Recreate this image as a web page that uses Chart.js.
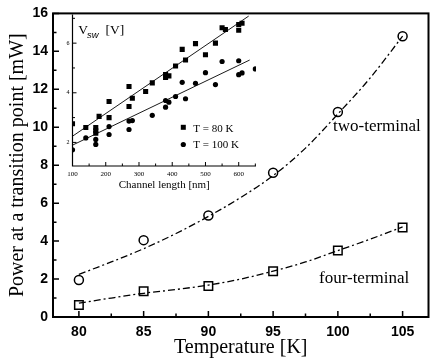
<!DOCTYPE html>
<html>
<head>
<meta charset="utf-8">
<script src="https://cdn.jsdelivr.net/npm/chart.js@4.4.1/dist/chart.umd.min.js"></script>
<style>
  body { margin: 0; background: #fff; }
  #wrap { position: relative; width: 436px; height: 358px; }
  #main { position: absolute; left: 0; top: 0; }
  #inset { position: absolute; left: 56px; top: 8px; }
</style>
</head>
<body>
<div id="wrap">
  <canvas id="main" width="436" height="358"></canvas>
  <canvas id="inset" width="204" height="186"></canvas>
</div>
<script>
// main plot: power vs temperature
const temps = [80, 85, 90, 95, 100, 105];
const twoTerminal = [1.95, 4.05, 5.35, 7.6, 10.8, 14.8];
const fourTerminal = [0.63, 1.36, 1.63, 2.41, 3.5, 4.72];
// dash-dot fit curves
const fitTemps = [80, 82.5, 85, 87.5, 90, 92.5, 95, 97.5, 100, 102.5, 105];
const twoFit = [2.25, 2.9, 3.6, 4.4, 5.3, 6.3, 7.45, 8.9, 10.7, 12.6, 14.8];
const fourFit = [0.73, 1.0, 1.25, 1.45, 1.68, 2.0, 2.42, 2.9, 3.5, 4.1, 4.75];
const xTicks = [80, 85, 90, 95, 100, 105];
const xMinor = [82.5, 87.5, 92.5, 97.5, 102.5];
const yTicks = [0, 2, 4, 6, 8, 10, 12, 14, 16];
const yMinor = [1, 3, 5, 7, 9, 11, 13, 15];

// inset: switching voltage vs channel length
const len80 = [100, 140, 170, 170, 170, 180, 210, 210, 270, 270, 280, 320, 340, 380, 380, 390, 410, 430, 440, 470, 500, 530, 550, 560, 600, 610, 600];
const vsw80 = [2.75, 2.6, 2.6, 2.47, 2.37, 3.05, 3.65, 3.0, 4.25, 3.45, 3.78, 4.05, 4.4, 4.73, 4.62, 4.68, 5.08, 5.75, 5.32, 5.98, 5.53, 6.0, 6.62, 6.55, 6.75, 6.8, 6.52];
const len100 = [100, 140, 170, 170, 210, 210, 270, 270, 280, 340, 380, 380, 390, 410, 430, 440, 470, 500, 530, 550, 600, 600, 610, 650];
const vsw100 = [1.7, 2.18, 2.12, 1.92, 2.64, 2.32, 2.52, 2.86, 2.88, 3.09, 3.69, 3.42, 3.62, 3.85, 4.42, 3.76, 4.38, 4.81, 4.33, 5.26, 5.29, 4.73, 4.8, 4.96];
const fitLen80 = [100, 630];
const fitV80 = [2.25, 7.09];
const fitLen100 = [100, 633];
const fitV100 = [1.89, 5.32];
const insetXTicks = [100, 200, 300, 400, 500, 600];
const insetXMinor = [150, 250, 350, 450, 550, 650];
const insetYTicks = [2, 4, 6];
const insetYMinor = [3, 5, 7];

const serif = '"Liberation Serif", "DejaVu Serif", serif';
const sans = '"Liberation Sans", Arial, sans-serif';

function pts(xs, ys) {
  return xs.map((v, i) => ({ x: v, y: ys[i] }));
}

function drawTicks(chart, xMaj, xMin, yMaj, yMin, lenMaj, lenMin, lw) {
  const { ctx, chartArea: a } = chart;
  const x = chart.scales.x, y = chart.scales.y;
  ctx.save();
  ctx.strokeStyle = '#000';
  ctx.lineWidth = lw;
  ctx.beginPath();
  xMaj.forEach(v => { const p = x.getPixelForValue(v); ctx.moveTo(p, a.bottom); ctx.lineTo(p, a.bottom - lenMaj); });
  xMin.forEach(v => { const p = x.getPixelForValue(v); ctx.moveTo(p, a.bottom); ctx.lineTo(p, a.bottom - lenMin); });
  yMaj.forEach(v => { const p = y.getPixelForValue(v); ctx.moveTo(a.left, p); ctx.lineTo(a.left + lenMaj, p); });
  yMin.forEach(v => { const p = y.getPixelForValue(v); ctx.moveTo(a.left, p); ctx.lineTo(a.left + lenMin, p); });
  ctx.stroke();
  ctx.restore();
}

const mainDecor = {
  id: 'mainDecor',
  afterDatasetsDraw(chart) {
    const { ctx, chartArea: a } = chart;
    drawTicks(chart, xTicks, xMinor, yTicks, yMinor, 6, 3.5, 1.5);
    ctx.save();
    ctx.strokeStyle = '#000';
    ctx.lineWidth = 2;
    ctx.strokeRect(a.left, a.top, a.right - a.left, a.bottom - a.top);
    ctx.fillStyle = '#000';
    ctx.font = '17px ' + serif;
    ctx.textBaseline = 'alphabetic';
    ctx.fillText('two-terminal', 333, 131);
    ctx.fillText('four-terminal', 319, 283);
    ctx.restore();
  }
};

const insetDecor = {
  id: 'insetDecor',
  afterDatasetsDraw(chart) {
    const { ctx, chartArea: a } = chart;
    drawTicks(chart, insetXTicks, insetXMinor, insetYTicks, insetYMinor, 4, 2.5, 1);
    ctx.save();
    ctx.strokeStyle = '#000';
    ctx.lineWidth = 1.2;
    ctx.beginPath();
    ctx.moveTo(a.left, a.top);
    ctx.lineTo(a.left, a.bottom);
    ctx.lineTo(a.right, a.bottom);
    ctx.stroke();
    ctx.fillStyle = '#000';
    // V_SW [V]
    ctx.font = '13.5px ' + serif;
    ctx.fillText('V', 22.3, 26);
    ctx.font = 'italic 9.5px ' + sans;
    ctx.fillText('sw', 31, 29.5);
    ctx.font = '13.5px ' + serif;
    ctx.fillText('[V]', 49.5, 26);
    // legend
    ctx.fillRect(127.3 - 2.5, 119.3 - 2.5, 5, 5);
    ctx.beginPath();
    ctx.arc(127.3, 136.5, 2.6, 0, Math.PI * 2);
    ctx.fill();
    ctx.font = '11px ' + serif;
    ctx.fillText('T = 80 K', 137.3, 123.5);
    ctx.fillText('T = 100 K', 137.3, 140);
    ctx.restore();
  }
};

new Chart(document.getElementById('main'), {
  type: 'scatter',
  data: {
    datasets: [
      { data: pts(fitTemps, twoFit), showLine: true, borderColor: '#000', borderWidth: 1.3,
        borderDash: [7, 3, 2, 3], pointRadius: 0, tension: 0.4, cubicInterpolationMode: 'monotone' },
      { data: pts(fitTemps, fourFit), showLine: true, borderColor: '#000', borderWidth: 1.3,
        borderDash: [7, 3, 2, 3], pointRadius: 0, tension: 0.4, cubicInterpolationMode: 'monotone' },
      { data: pts(temps, twoTerminal), pointStyle: 'circle', pointRadius: 4.5, pointBorderWidth: 1.5,
        pointBorderColor: '#000', pointBackgroundColor: 'rgba(0,0,0,0)' },
      { data: pts(temps, fourTerminal), pointStyle: 'rect', pointRadius: 6, pointBorderWidth: 1.5,
        pointBorderColor: '#000', pointBackgroundColor: 'rgba(0,0,0,0)' }
    ]
  },
  options: {
    responsive: false,
    animation: false,
    layout: { padding: { top: 12, right: 7, left: 0, bottom: 0 } },
    plugins: { legend: { display: false }, tooltip: { enabled: false } },
    scales: {
      x: {
        type: 'linear', min: 78, max: 107,
        afterBuildTicks: s => { s.ticks = xTicks.map(v => ({ value: v })); },
        afterFit: s => { s.height = 41; },
        grid: { display: false, drawTicks: false },
        border: { display: false },
        ticks: { color: '#000', font: { family: sans, size: 14, weight: 'bold' }, padding: 7, maxRotation: 0, autoSkip: false },
        title: { display: true, text: 'Temperature [K]', color: '#000',
          font: { family: serif, size: 20, lineHeight: 1.1 }, padding: { top: 0, bottom: -1 } }
      },
      y: {
        type: 'linear', min: 0, max: 16,
        afterBuildTicks: s => { s.ticks = yTicks.map(v => ({ value: v })); },
        afterFit: s => { s.width = 53; },
        grid: { display: false, drawTicks: false },
        border: { display: false },
        ticks: { color: '#000', font: { family: sans, size: 14, weight: 'bold' }, padding: 5 },
        title: { display: true, text: 'Power at a transition point [mW]', color: '#000',
          font: { family: serif, size: 20, lineHeight: 1.2 }, padding: { top: 6, bottom: 0 } }
      }
    }
  },
  plugins: [mainDecor]
});

new Chart(document.getElementById('inset'), {
  type: 'scatter',
  data: {
    datasets: [
      { data: pts(fitLen80, fitV80), showLine: true, borderColor: '#000', borderWidth: 0.9, pointRadius: 0 },
      { data: pts(fitLen100, fitV100), showLine: true, borderColor: '#000', borderWidth: 0.9, pointRadius: 0 },
      { data: pts(len80, vsw80), pointStyle: 'rect', pointRadius: 3.6, pointBorderWidth: 0,
        pointBackgroundColor: '#000' },
      { data: pts(len100, vsw100), pointStyle: 'circle', pointRadius: 2.6, pointBorderWidth: 0,
        pointBackgroundColor: '#000' }
    ]
  },
  options: {
    responsive: false,
    animation: false,
    layout: { padding: { top: 5, right: 4, left: 0, bottom: 0 } },
    plugins: { legend: { display: false }, tooltip: { enabled: false } },
    scales: {
      x: {
        type: 'linear', min: 100, max: 652,
        afterBuildTicks: s => { s.ticks = insetXTicks.map(v => ({ value: v })); },
        afterFit: s => { s.height = 28; },
        grid: { display: false, drawTicks: false },
        border: { display: false },
        ticks: { color: '#000', font: { family: serif, size: 7 }, padding: 3.5, maxRotation: 0, autoSkip: false },
        title: { display: true, text: 'Channel length [nm]', color: '#000',
          font: { family: serif, size: 11, lineHeight: 1.2 }, padding: { top: 0, bottom: 2 } }
      },
      y: {
        type: 'linear', min: 1.05, max: 7.15,
        afterBuildTicks: s => { s.ticks = insetYTicks.map(v => ({ value: v })); },
        afterFit: s => { s.width = 16.5; },
        grid: { display: false, drawTicks: false },
        border: { display: false },
        ticks: { color: '#000', font: { family: serif, size: 6 }, padding: 3 }
      }
    }
  },
  plugins: [insetDecor]
});
</script>
</body>
</html>
